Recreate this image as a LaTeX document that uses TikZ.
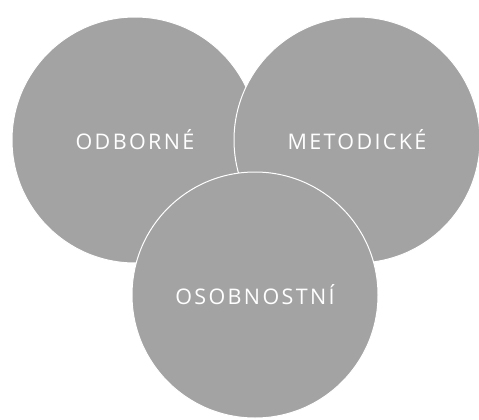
\documentclass[tikz,border=0pt]{standalone}
\usepackage{fontspec}
\setmainfont{Open Sans}[LetterSpace=11]
\usepackage{tikz}
\usetikzlibrary{positioning}
\usepackage{xcolor}
\definecolor{kruhgray}{HTML}{A3A3A3}

\begin{document}
\begin{tikzpicture}[x=1pt, y=1pt,
  font=\fontsize{21.5}{26}\selectfont,
  kruh/.style={circle, draw=white, line width=1pt, fill=kruhgray, text=white, minimum size=246pt, inner sep=0pt}]
\useasboundingbox (0,0) rectangle (479,-420);
\node[kruh] (odb) at (135,-140) {ODBORNÉ};
\node[kruh] (met) at (357,-140) {METODICKÉ};
\node[kruh] (oso) at (255,-295) {OSOBNOSTNÍ};
\end{tikzpicture}
\end{document}
